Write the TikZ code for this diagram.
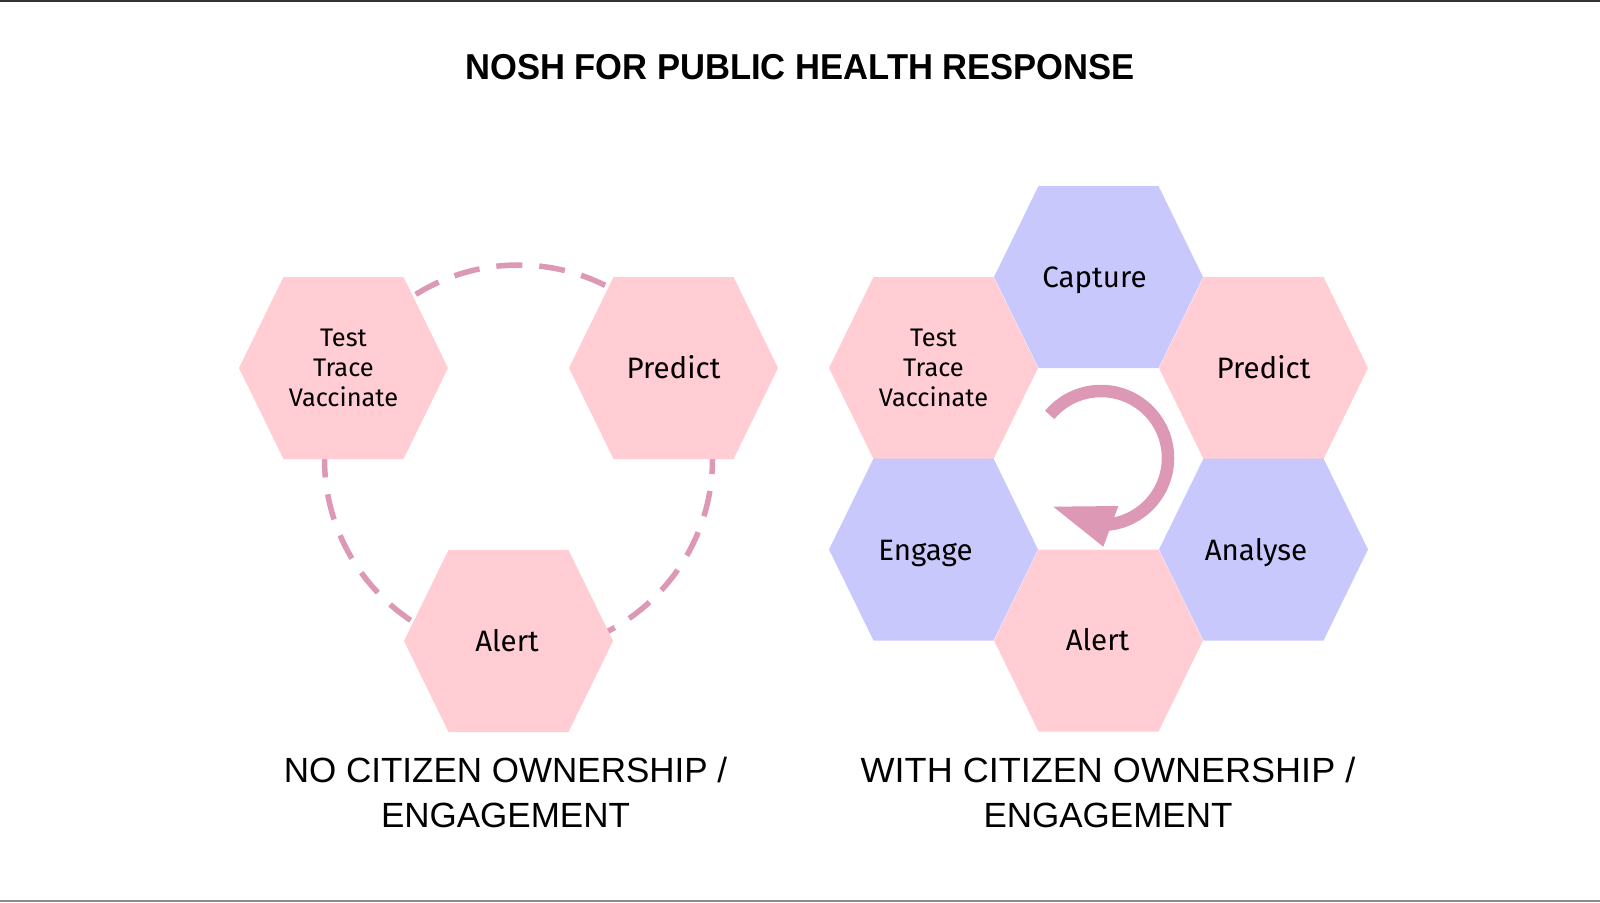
\documentclass[tikz,border=0pt]{standalone}
\usepackage{fontspec}
\setmainfont{Liberation Sans}
\newfontfamily\hexfont{Fira Sans}
\definecolor{hexpink}{HTML}{FFCDD3}
\definecolor{hexblue}{HTML}{C9C8FC}
\definecolor{loopc}{HTML}{DC98B4}
\newcommand\hexat[2]{\fill[#2] ([shift={(-104.5,0)}]#1) -- ([shift={(-60,-91)}]#1) -- ([shift={(60,-91)}]#1) -- ([shift={(104.5,0)}]#1) -- ([shift={(60,91)}]#1) -- ([shift={(-60,91)}]#1) -- cycle;}
\begin{document}
\begin{tikzpicture}[x=1pt,y=-1pt,
  pinkhex/.style={fill=hexpink},
  bluehex/.style={fill=hexblue},
  hexlbl/.style={inner sep=0pt, text=black, font=\hexfont\fontsize{29.5}{34}\selectfont},
  hexmulti/.style={inner sep=0pt, text=black, align=center, font=\hexfont\fontsize{25.4}{30}\selectfont},
  caption/.style={inner sep=0pt, text=black, align=center, font=\fontsize{35}{45}\selectfont},
  dashring/.style={draw=loopc, line width=5.5pt, dash pattern=on 26pt off 17pt},
  looparc/.style={draw=loopc, line width=12.5pt}]
\fill[white] (0,0) rectangle (1600,902);
\useasboundingbox (0,0) rectangle (1600,902);
\draw[line width=1.5pt, black!80] (0,0.75) -- (1600,0.75);
\draw[line width=1.5pt, black!45] (0,901) -- (1600,901);

% title
\node[inner sep=0pt, anchor=base, font=\bfseries\fontsize{36}{43}\selectfont] (title) at (800,79) {\scalebox{0.96}[1]{NOSH FOR PUBLIC HEALTH RESPONSE}};

% ---------- left diagram ----------
\coordinate (LC) at (518.5,459);
\draw[dashring] (LC) circle[radius=194pt];
\coordinate (lttv) at (343.5,368);
\coordinate (lpre) at (673.5,368);
\coordinate (lale) at (508.5,641);
\hexat{lttv}{pinkhex}
\hexat{lpre}{pinkhex}
\hexat{lale}{pinkhex}
\node[hexmulti] (lttvT) at (lttv) {Test\\Trace\\Vaccinate};
\node[hexlbl, anchor=base] (lpreT) at (673.5,378.2) {Predict};
\node[hexlbl, anchor=base] (laleT) at (507,651.2) {Alert};
\node[caption] (lcap) at (505.5,792.3) {NO CITIZEN OWNERSHIP /\\ENGAGEMENT};

% ---------- right diagram ----------
\coordinate (rcap) at (1098.5,277);
\coordinate (rttv) at (933.5,368);
\coordinate (rpre) at (1263.5,368);
\coordinate (reng) at (933.5,549.5);
\coordinate (rana) at (1263.5,549.5);
\coordinate (rale) at (1098.5,640.5);
\hexat{rcap}{bluehex}
\hexat{rttv}{pinkhex}
\hexat{rpre}{pinkhex}
\hexat{reng}{bluehex}
\hexat{rana}{bluehex}
\hexat{rale}{pinkhex}
\node[hexlbl, anchor=base] (rcapT) at (1094.5,287.2) {Capture};
\node[hexmulti] (rttvT) at (rttv) {Test\\Trace\\Vaccinate};
\node[hexlbl, anchor=base] (rpreT) at (1263.5,378.2) {Predict};
\node[hexlbl, anchor=base] (rengT) at (925.5,560) {Engage};
\node[hexlbl, anchor=base] (ranaT) at (1256,560) {Analyse};
\node[hexlbl, anchor=base] (raleT) at (1097.5,650.2) {Alert};
\node[caption] (rcapL) at (1108,792.3) {\scalebox{1.03}[1]{WITH CITIZEN OWNERSHIP /}\\ENGAGEMENT};

% circular arrow
\coordinate (AC) at (1101,458);
\draw[looparc] ([shift={(140:67pt)}]AC) arc[start angle=140, end angle=-95, radius=67pt];
\coordinate (tipA) at (1053.3,506.7);
\coordinate (tipB) at (1118.3,506);
\coordinate (tipC) at (1103.3,546.7);
\fill[loopc] (tipA) -- (tipB) -- (tipC) -- cycle;
\end{tikzpicture}
\end{document}
